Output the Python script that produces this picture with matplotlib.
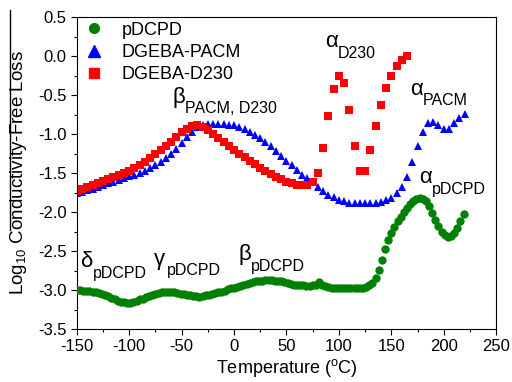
import numpy as np
import matplotlib
matplotlib.use("Agg")
import matplotlib.pyplot as plt
from matplotlib.ticker import MultipleLocator
from matplotlib.lines import Line2D

plt.rcParams['font.family'] = ['Liberation Sans', 'DejaVu Sans']
plt.rcParams['mathtext.fontset'] = 'custom'
plt.rcParams['mathtext.rm'] = 'Liberation Sans'
plt.rcParams['mathtext.it'] = 'Liberation Sans:italic'

# ---------------- data ----------------
pdcpd_start, pdcpd_step = -150, 3
pdcpd_vals = [
    -3.00, -3.00, -3.01, -3.01, -3.01, -3.02, -3.03, -3.04, -3.05, -3.07,
    -3.08, -3.10, -3.12, -3.14, -3.15, -3.16, -3.17, -3.17, -3.15, -3.14,
    -3.12, -3.11, -3.09, -3.08, -3.06, -3.05, -3.04, -3.03, -3.03, -3.03,
    -3.03, -3.03, -3.04, -3.05, -3.05, -3.06, -3.07, -3.08, -3.08, -3.09,
    -3.08, -3.07, -3.06, -3.05, -3.04, -3.03, -3.02, -3.01, -2.99, -2.98,
    -2.97, -2.96, -2.95, -2.93, -2.92, -2.91, -2.90, -2.89, -2.88, -2.88,
    -2.87, -2.87, -2.87, -2.88, -2.88, -2.89, -2.90, -2.91, -2.92, -2.93,
    -2.93, -2.94, -2.94, -2.95, -2.95, -2.94, -2.93, -2.90, -2.93, -2.95,
    -2.96, -2.97, -2.97, -2.97, -2.98, -2.98, -2.98, -2.98, -2.98, -2.98,
    -2.97, -2.97, -2.96, -2.94, -2.91, -2.84, -2.74, -2.61, -2.47, -2.36,
    -2.27, -2.19, -2.12, -2.06, -2.00, -1.95, -1.90, -1.86, -1.83, -1.82,
    -1.83, -1.86, -1.92, -2.01, -2.10, -2.18, -2.25, -2.30, -2.32, -2.31,
    -2.27, -2.20, -2.11, -2.02,
]

pacm_start, pacm_step = -150, 5
pacm_vals = [
    -1.76, -1.74, -1.72, -1.70, -1.68, -1.66, -1.63, -1.61, -1.59, -1.57,
    -1.54, -1.52, -1.50, -1.47, -1.44, -1.40, -1.36, -1.31, -1.26, -1.19,
    -1.12, -1.04, -0.97, -0.91, -0.88, -0.87, -0.87, -0.87, -0.87, -0.88,
    -0.89, -0.91, -0.94, -0.97, -1.01, -1.05, -1.10, -1.16, -1.22, -1.28,
    -1.34, -1.40, -1.46, -1.52, -1.57, -1.62, -1.68, -1.73, -1.78, -1.81,
    -1.84, -1.86, -1.88, -1.89, -1.89, -1.89, -1.89, -1.88, -1.87, -1.85,
    -1.82, -1.76, -1.68, -1.55, -1.36, -1.15, -0.97, -0.86, -0.84, -0.88,
    -0.93, -0.93, -0.86, -0.80, -0.74,
]

d230_start, d230_step = -150, 5
d230_vals = [
    -1.73, -1.70, -1.68, -1.65, -1.63, -1.60, -1.58, -1.55, -1.52, -1.50,
    -1.47, -1.44, -1.40, -1.36, -1.31, -1.26, -1.21, -1.15, -1.10, -1.04,
    -0.98, -0.93, -0.90, -0.89, -0.91, -0.95, -1.00, -1.05, -1.10, -1.15,
    -1.20, -1.25, -1.29, -1.34, -1.39, -1.43, -1.47, -1.51, -1.55, -1.58,
    -1.61, -1.63, -1.65, -1.66, -1.65, -1.62,
    -1.50, -1.18, -0.77, -0.42, -0.26, -0.35, -0.69, -1.15, -1.48, -1.48,
    -1.20, -0.90, -0.63, -0.41, -0.26, -0.13, -0.05, 0.00,
]

series_names = ["pDCPD", "DGEBA-PACM", "DGEBA-D230"]
x_ticks = [-150, -100, -50, 0, 50, 100, 150, 200, 250]
y_ticks = [-3.5, -3.0, -2.5, -2.0, -1.5, -1.0, -0.5, 0.0, 0.5]

T_pdcpd = pdcpd_start + pdcpd_step * np.arange(len(pdcpd_vals))
T_pacm = pacm_start + pacm_step * np.arange(len(pacm_vals))
T_d230 = d230_start + d230_step * np.arange(len(d230_vals))

# ---------------- figure ----------------
fig = plt.figure(figsize=(5.12, 3.82), dpi=100)
ax = fig.add_axes([0.150, 0.1387, 0.819, 0.8168])

green = '#008000'
blue = '#0000ff'
red = '#ff0000'

ax.plot(T_pdcpd, pdcpd_vals, 'o', color=green, ms=6.0, mec=green, mew=0, zorder=3)
ax.plot(T_pacm, pacm_vals, '^', color=blue, ms=6.3, mec=blue, mew=0, zorder=2)
ax.plot(T_d230, d230_vals, 's', color=red, ms=5.4, mec=red, mew=0, zorder=2.5)

ax.set_xlim(-150, 250)
ax.set_ylim(-3.5, 0.5)
ax.set_xticks(x_ticks)
ax.set_yticks(y_ticks)
ax.set_xticklabels([f"{v:g}" for v in x_ticks])
ax.set_yticklabels([f"{v:.1f}" for v in y_ticks])
ax.xaxis.set_minor_locator(MultipleLocator(25))
ax.yaxis.set_minor_locator(MultipleLocator(0.25))
ax.tick_params(which='both', direction='out', top=False, right=False, labelsize=12, width=0.8)
ax.tick_params(which='major', length=4)
ax.tick_params(which='minor', length=2.5)
for s in ax.spines.values():
    s.set_linewidth(0.8)

ax.set_xlabel("Temperature ($^{\\mathrm{o}}$C)", fontsize=13, labelpad=2)
ax.set_ylabel("Log$_{\\mathrm{10}}$ Conductivity-Free Loss", fontsize=13.5, labelpad=6)
# overline above "Conductivity-Free Loss"
ax.plot([9.5/512, 9.5/512], [1-10/382, 1-230/382], color='black', lw=1.0,
        transform=fig.transFigure, clip_on=False)

handles = [
    Line2D([], [], ls='none', marker='o', color=green, ms=7),
    Line2D([], [], ls='none', marker='^', color=blue, ms=8),
    Line2D([], [], ls='none', marker='s', color=red, ms=6.5),
]
ax.legend(handles, series_names, loc='upper left', bbox_to_anchor=(-0.01, 1.02),
          frameon=False, fontsize=13, handletextpad=0.9, labelspacing=0.3,
          handlelength=1.2, borderaxespad=0.2)

# peak labels: (greek, subscript, x, y)
labels = [
    ("β", "PACM, D230", -59, -0.60),
    ("α", "D230", 87, 0.11),
    ("α", "PACM", 168, -0.50),
    ("α", "pDCPD", 177, -1.63),
    ("δ", "pDCPD", -147, -2.71),
    ("γ", "pDCPD", -76, -2.68),
    ("β", "pDCPD", 4, -2.62),
]
for g, sub, x, y in labels:
    ax.text(x, y, g, fontsize=16, ha='left', va='baseline')
    ax.annotate(sub, xy=(x, y), xytext=(9, -7.5), textcoords='offset points',
                fontsize=11.5, ha='left', va='baseline')

fig.savefig("out.png", dpi=100)
